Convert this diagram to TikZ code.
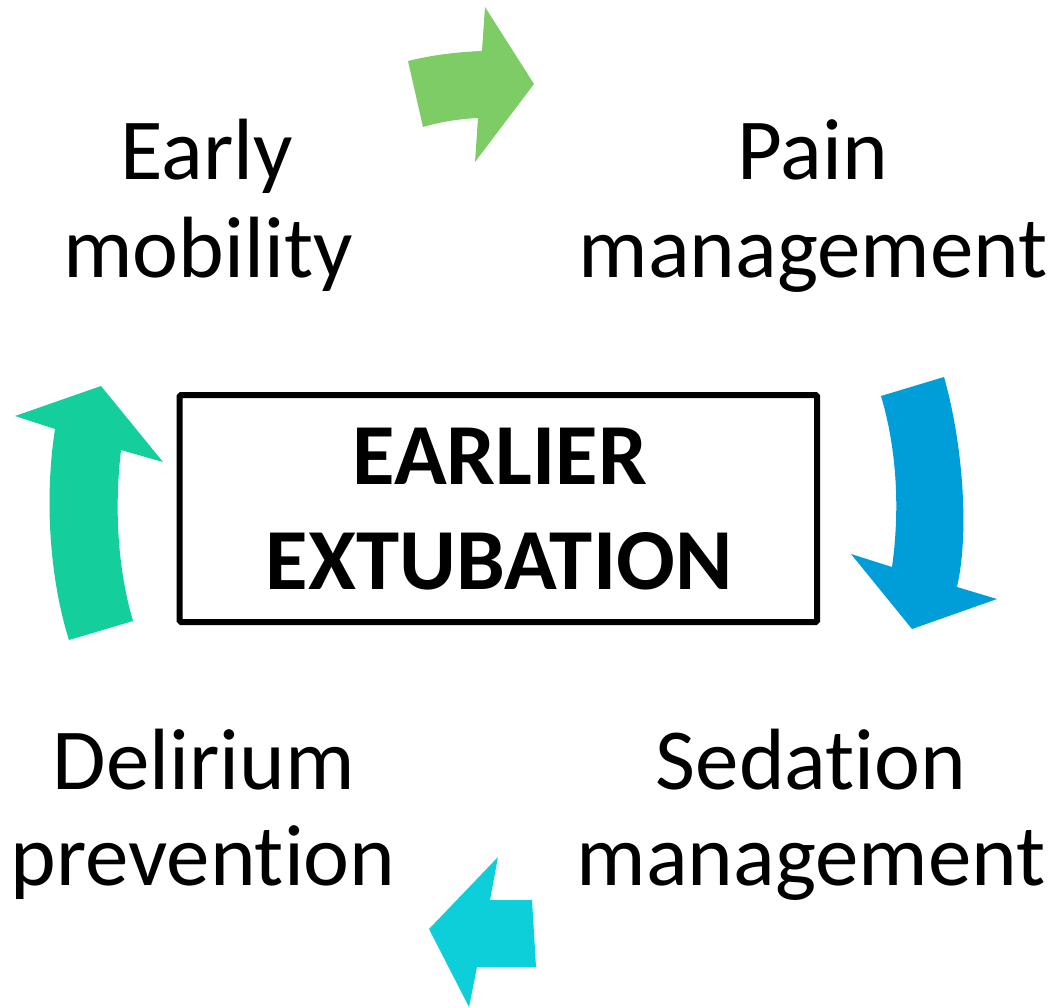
\documentclass[tikz,border=0pt]{standalone}
\usepackage{fontspec}
\setmainfont{Carlito}[Ligatures={NoCommon,NoContextual}]
\definecolor{cgreen}{HTML}{7ECC66}
\definecolor{cblue}{HTML}{009ED8}
\definecolor{cteal}{HTML}{14CF9B}
\definecolor{ccyan}{HTML}{0DCFD9}
\tikzset{
  lbl/.style={inner sep=0pt, anchor=base, font=\fontsize{87}{97}\selectfont},
  boldlbl/.style={inner sep=0pt, anchor=base, font=\fontsize{87}{105}\selectfont\bfseries},
  centerbox/.style={draw=black, line width=6pt, rounded corners=1.5pt, fill=none}
}
\begin{document}
\begin{tikzpicture}[x=1pt,y=-1pt]
\useasboundingbox (0,0) rectangle (1059,1008);
% central box
\draw[centerbox] (179.5,395) rectangle (817,622);
\node[boldlbl] (earlier) at (500,484) {EARLIER};
\node[boldlbl] (extubation) at (499,589) {EXTUBATION};
% labels
\node[lbl] (early) at (207,180) {Early};
\node[lbl] (mobility) at (208,277) {mobility};
\node[lbl] (pain) at (813,180) {Pain};
\node[lbl] (painmgmt) at (813,277) {management};
\node[lbl] (sedation) at (811,789) {Sedation};
\node[lbl] (sedmgmt) at (811,885) {management};
\node[lbl] (delirium) at (204,789) {Delirium};
\node[lbl] (prevention) at (203,885) {prevention};
% green arrow (top)
\fill[cgreen] (408,61) .. controls (432,55) and (457,52) .. (482,51)
  -- (485,7) -- (534,84) -- (475,162) -- (478,118)
  .. controls (458,119) and (440,122) .. (423,127) -- cycle;
% blue arrow (right)
\fill[cblue] (881,396) -- (944,377) .. controls (962,440) and (970,530) .. (957,587)
  -- (997,599) -- (912,629) -- (851,554) -- (892,567)
  .. controls (900,510) and (897,450) .. (881,396) -- cycle;
% cyan arrow (bottom)
\fill[ccyan] (498,857) -- (490,900) -- (532,900) -- (536,967) -- (477,967)
  -- (469,1007) -- (429,929) -- cycle;
% teal arrow (left)
\fill[cteal] (55,429) -- (15,416) -- (101,386) -- (163,462) -- (121,450)
  .. controls (114,510) and (118,570) .. (133,621) -- (69,640)
  .. controls (50,580) and (44,500) .. (55,429) -- cycle;
\end{tikzpicture}
\end{document}
